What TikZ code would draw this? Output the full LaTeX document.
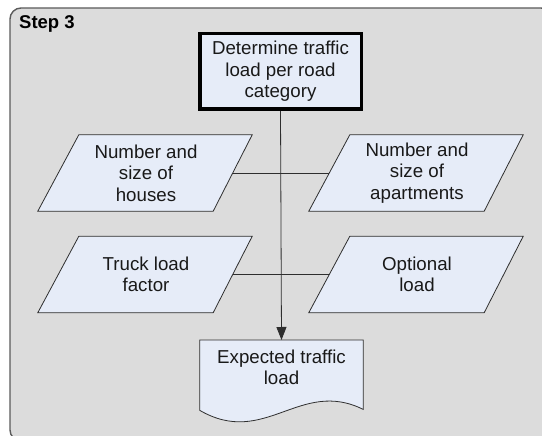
\documentclass[tikz,border=0pt]{standalone}
\usepackage{fontspec}
\setmainfont{Liberation Sans}
\usetikzlibrary{calc,arrows.meta}
\definecolor{panelgray}{HTML}{DCDCDC}
\definecolor{boxfill}{HTML}{E6ECF8}
\definecolor{edgegray}{HTML}{2E2E2E}
\definecolor{framegray}{HTML}{5A5A5A}
\tikzset{
  x=1pt, y=-1pt,
  lbl/.style={font=\fontsize{18.7}{21.5}\selectfont, text=black!90, align=center},
  datashape/.style={lbl, minimum width=214pt, minimum height=76pt, inner sep=0pt},
  parafill/.style={fill=boxfill, draw=edgegray, line width=0.8pt, line join=miter},
  procbox/.style={lbl, fill=boxfill, draw=black, line width=3.5pt,
    minimum width=161.5pt, minimum height=75.5pt, inner sep=0pt},
  link/.style={draw=edgegray, line width=0.8pt},
  flow/.style={link, -{Triangle[length=13pt, width=10pt]}}
}
\newcommand{\paraoutline}[1]{%
  \path[parafill] ($(#1.north west)+(41,0)$) -- (#1.north east)
    -- ($(#1.south east)-(39,0)$) -- (#1.south west) -- cycle;}
\begin{document}
\begin{tikzpicture}
\useasboundingbox (0,0) rectangle (542,436);
\begin{scope}
  \clip (0,0) rectangle (542,436);
  % step panel
  \path[fill=panelgray, draw=framegray, line width=1.4pt, rounded corners=11pt]
    (10,8) rectangle (552,441);
\end{scope}
\node[anchor=base west, font=\fontsize{18.5}{21.5}\selectfont\bfseries, inner sep=0pt]
  (steplabel) at (19,29) {Step 3};

% process box
\node[procbox] (det) at (280.5,71.5) {Determine traffic\\load per road\\category};

% data inputs
\node[datashape] (houses) at (145,173) {};
\node[datashape] (apts)   at (416,173) {};
\node[datashape] (truck)  at (145,274.5) {};
\node[datashape] (opt)    at (416,274.5) {};
\paraoutline{houses}
\paraoutline{apts}
\paraoutline{truck}
\paraoutline{opt}
\node[lbl] at ($(houses.center)+(1,0)$) {Number and\\size of\\houses};
\node[lbl] at ($(apts.center)+(1,0)$) {Number and\\size of\\apartments};
\node[lbl] at ($(truck.center)+(1,0)$) {Truck load\\factor};
\node[lbl] at ($(opt.center)+(1,0)$) {Optional\\load};

% document shape
\node[lbl, minimum width=163pt, minimum height=70pt, inner sep=0pt, anchor=north]
  (result) at (281.5,340) {};
\path[parafill] (result.north west) -- (result.north east) -- ($(result.south east)-(0,1)$)
  .. controls (300,378) and (265,448) .. ($(result.south west)$) -- cycle;
\node[lbl, anchor=north] at ($(result.north)+(0,6)$) {Expected traffic\\load};

% connectors
\coordinate (houses-r) at ($(houses.east)-(19.5,0)$);
\coordinate (apts-l)   at ($(apts.west)+(20.5,0)$);
\coordinate (truck-r)  at ($(truck.east)-(19.5,0)$);
\coordinate (opt-l)    at ($(opt.west)+(20.5,0)$);
\draw[link] (houses-r) -- (apts-l);
\draw[link] (truck-r) -- (opt-l);
\draw[flow] (det.south) -- (result.north);
\end{tikzpicture}
\end{document}
